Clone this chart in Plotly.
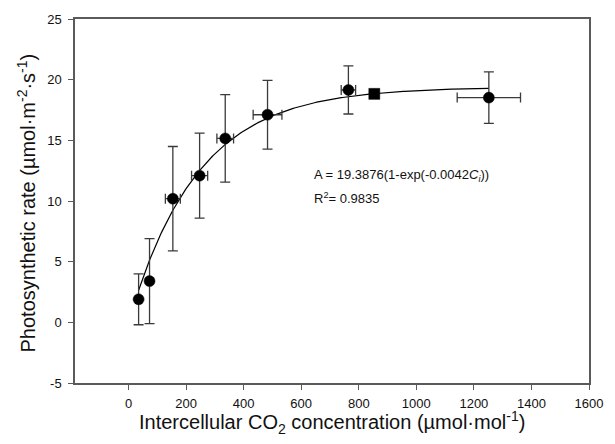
import numpy as np
import plotly.graph_objects as go

# Data
ci = [35, 73, 154, 247, 336, 483, 764, 854, 1252]
ci_err = [0, 0, 26, 28, 29, 50, 25, 0, 110]
photo = [1.9, 3.4, 10.19, 12.09, 15.16, 17.11, 19.15, 18.83, 18.52]
photo_err = [2.1, 3.5, 4.3, 3.5, 3.6, 2.83, 1.98, 0.0, 2.13]
symbols = ["circle"] * 7 + ["square"] + ["circle"]

# Fitted model shown on the chart: A = 19.3876(1-exp(-0.0042 Ci))
A_MAX = 19.3876
K = 0.0042
ci_fit = np.linspace(ci[0], ci[-1], 300)
a_fit = A_MAX * (1 - np.exp(-K * ci_fit))

x_ticks = [0, 200, 400, 600, 800, 1000, 1200, 1400, 1600]
y_ticks = [-5, 0, 5, 10, 15, 20, 25]

FONT = "Arial, Liberation Sans, sans-serif"
AXIS_COLOR = "#5a5a5a"

fig = go.Figure()
fig.add_trace(go.Scatter(
    x=ci_fit, y=a_fit, mode="lines",
    line=dict(color="black", width=1.2), hoverinfo="skip", showlegend=False))
fig.add_trace(go.Scatter(
    x=ci, y=photo, mode="markers",
    marker=dict(color="#000000", size=11, symbol=symbols, opacity=1,
                line=dict(width=0.5, color="#000000")),
    error_y=dict(type="data", array=photo_err, visible=True, color="#3a3a3a", thickness=1.3, width=5),
    error_x=dict(type="data", array=ci_err, visible=True, color="#3a3a3a", thickness=1.3, width=5),
    showlegend=False))

fig.add_annotation(x=636, y=12.1, xref="x", yref="y", xanchor="left", yanchor="middle",
                   text="A = 19.3876(1-exp(-0.0042<i>C</i><sub><i>i</i></sub>))",
                   showarrow=False, font=dict(family=FONT, size=13, color="#111"))
fig.add_annotation(x=636, y=10.27, xref="x", yref="y", xanchor="left", yanchor="middle",
                   text="R<sup>2</sup>= 0.9835",
                   showarrow=False, font=dict(family=FONT, size=13, color="#111"))

# Axis titles
fig.add_annotation(x=-0.094, y=0.495, xref="paper", yref="paper", xanchor="center", yanchor="middle",
                   textangle=-90, showarrow=False,
                   text="Photosynthetic rate (µmol·m<sup>-2</sup>·s<sup>-1</sup>)",
                   font=dict(family=FONT, size=20, color="#111"))
fig.add_annotation(x=0.5, y=-0.108, xref="paper", yref="paper", xanchor="center", yanchor="middle",
                   showarrow=False,
                   text="Intercellular CO<sub>2</sub> concentration (µmol·mol<sup>-1</sup>)",
                   font=dict(family=FONT, size=20, color="#111"))

fig.update_layout(
    width=615, height=444,
    margin=dict(l=75, r=26, t=13, b=61),
    paper_bgcolor="white", plot_bgcolor="white",
    font=dict(family=FONT, size=13, color="#111"),
)
fig.update_xaxes(range=[-186, 1600], tickvals=x_ticks, ticktext=[str(v) for v in x_ticks],
                 showgrid=False, zeroline=False, showline=True, mirror=True,
                 linecolor=AXIS_COLOR, linewidth=1.5, ticks="outside", ticklen=5,
                 tickcolor=AXIS_COLOR, tickwidth=1.2, ticklabelstandoff=3,
                 tickfont=dict(size=13, family=FONT, color="#111"))
fig.update_yaxes(range=[-5, 25], tickvals=y_ticks, ticktext=[str(v) for v in y_ticks],
                 showgrid=False, zeroline=False, showline=True, mirror=True,
                 linecolor=AXIS_COLOR, linewidth=1.5, ticks="outside", ticklen=5,
                 tickcolor=AXIS_COLOR, tickwidth=1.2, ticklabelstandoff=4,
                 tickfont=dict(size=13, family=FONT, color="#111"))

fig.write_html("out.html")
